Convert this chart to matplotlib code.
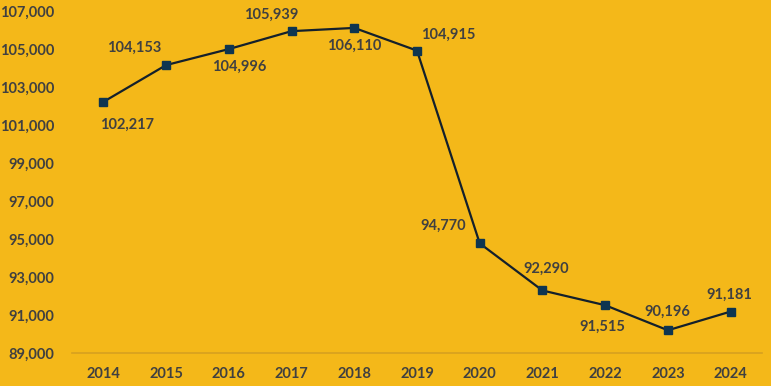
import matplotlib.pyplot as plt

# Data
years = ['2014', '2015', '2016', '2017', '2018', '2019', '2020', '2021', '2022', '2023', '2024']
values = [102217, 104153, 104996, 105939, 106110, 104915, 94770, 92290, 91515, 90196, 91181]
# label offsets in pixels (dx, dy) relative to each marker
label_offsets = [(24, -23), (-32, 17), (10, -18), (-20, 16), (0, -18),
                 (31, 16), (-37, 18), (4, 22), (-3, -22), (-1, 18), (-1, 17)]

bg = '#F4B819'
text_color = '#404040'

plt.rcParams['font.family'] = ['Lato', 'DejaVu Sans']

fig = plt.figure(figsize=(7.71, 3.86), dpi=100, facecolor=bg)
ax = fig.add_axes([72 / 771, 1 - 353 / 386, 690 / 771, 342 / 386], facecolor=bg)

x = list(range(len(years)))
ax.plot(x, values, color='#14202B', lw=1.6, marker='s', markersize=6,
        markerfacecolor='#0E3550', markeredgecolor='#0E3550', zorder=3)

for i, v in enumerate(values):
    dx, dy = label_offsets[i]
    ax.annotate(f'{v:,}', (i, v), xytext=(dx, dy), textcoords='offset pixels',
                ha='center', va='center', fontsize=10.5, fontweight='bold', color=text_color)

ax.set_xlim(-0.5, len(years) - 0.5)
ax.set_ylim(89000, 107000)
ax.set_xticks(x)
ax.set_xticklabels(years)
ax.set_yticks(range(89000, 107001, 2000))
ax.set_yticklabels([f'{t:,}' for t in range(89000, 107001, 2000)])
ax.tick_params(length=0, labelsize=10.5, labelcolor=text_color)
ax.tick_params(axis='x', pad=10)
ax.tick_params(axis='y', pad=13)
for lab in ax.get_xticklabels() + ax.get_yticklabels():
    lab.set_fontweight('bold')

for s in ['top', 'right', 'left']:
    ax.spines[s].set_visible(False)
ax.spines['bottom'].set_color('#D6A020')
ax.spines['bottom'].set_linewidth(1.2)

fig.savefig('out.png', dpi=100, facecolor=bg)
